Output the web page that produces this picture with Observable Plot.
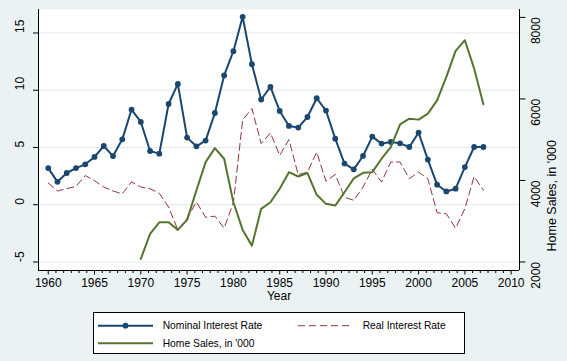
<!DOCTYPE html>
<html><head><meta charset="utf-8">
<script src="https://cdn.jsdelivr.net/npm/d3@7"></script>
<script src="https://cdn.jsdelivr.net/npm/@observablehq/plot@0.6"></script>
<style>
html,body{margin:0;padding:0;background:#eaf2f3;}
#wrap{position:relative;width:567px;height:361px;background:#eaf2f3;font-family:"Liberation Sans",Arial,sans-serif;overflow:hidden;}
#legend{position:absolute;left:93px;top:312px;width:372px;height:42px;}
</style></head>
<body>
<div id="wrap"><div id="chart"></div><div id="legend"></div></div>
<script>
// ---- data ----
const years = d3.range(1960, 2008);
const nominalRate = [3.2, 2.0, 2.77, 3.2, 3.53, 4.17, 5.13, 4.25, 5.71, 8.31,
  7.23, 4.69, 4.46, 8.8, 10.55, 5.86, 5.1, 5.6, 8.01, 11.29,
  13.41, 16.41, 12.27, 9.19, 10.29, 8.19, 6.88, 6.74, 7.66, 9.3,
  8.22, 5.77, 3.59, 3.09, 4.26, 5.95, 5.34, 5.48, 5.36, 5.04,
  6.3, 3.94, 1.75, 1.16, 1.4, 3.29, 5.04, 5.04];
const realRate = [1.9, 1.2, 1.4, 1.6, 2.55, 2.1, 1.55, 1.2, 0.95, 2.0,
  1.55, 1.4, 1.0, -0.2, -2.2, -1.2, 0.25, -1.1, -1.0, -2.05,
  0.2, 7.4, 8.4, 5.34, 6.27, 4.31, 5.69, 2.62, 2.85, 4.6,
  2.04, 2.65, 0.66, 0.38, 1.54, 3.1, 1.98, 3.73, 3.73, 2.27,
  2.85, 2.27, -0.7, -0.79, -2.05, -0.35, 2.47, 1.25];
const salesYears = d3.range(1970, 2008);
const homeSales = [2074, 2688, 2974, 2974, 2787, 3033, 3753, 4449, 4793, 4533,
  3466, 2787, 2401, 3303, 3466, 3795, 4203, 4097, 4179, 3647,
  3426, 3384, 3711, 4050, 4187, 4203, 4533, 4818, 5376, 5516,
  5492, 5639, 5966, 6539, 7178, 7441, 6745, 5868];
const xTicks = [1960, 1965, 1970, 1975, 1980, 1985, 1990, 1995, 2000, 2005, 2010];
const leftTicks = [-5, 0, 5, 10, 15];
const rightTicks = [2000, 4000, 6000, 8000];

// ---- styles ----
const cNom = "#1a476f", cReal = "#90353b", cSales = "#55752f";
const font = "'Liberation Sans', Arial, sans-serif";

// right axis (home sales) expressed on the left scale
const toLeft = h => -5 + (h - 2000) * 0.00356;
const x0 = 1958.95, x1 = 2010.9, y0 = -5.745, y1 = 17.05;
const minorX = d3.range(0, 61).map(i => 1960 + i * 5 / 6).filter(v => Math.abs(v - Math.round(v / 5) * 5) > 0.01);

const nomData = years.map((y, i) => ({year: y, v: nominalRate[i]}));
const realData = years.map((y, i) => ({year: y, v: realRate[i]}));
const salesData = salesYears.map((y, i) => ({year: y, v: toLeft(homeSales[i])}));

const noText = () => "";
const chart = Plot.plot({
  width: 567, height: 361,
  marginLeft: 38, marginRight: 48, marginTop: 9, marginBottom: 91,
  style: {background: "transparent", fontFamily: font, fontSize: "12px", color: "#000", overflow: "visible"},
  x: {domain: [x0, x1]},
  y: {domain: [y0, y1]},
  marks: [
    Plot.frame({fill: "white", stroke: null}),
    Plot.ruleY(leftTicks, {stroke: "#dfe8eb", strokeWidth: 1}),
    Plot.line(nomData, {x: "year", y: "v", stroke: cNom, strokeWidth: 2}),
    Plot.dot(nomData, {x: "year", y: "v", r: 2.9, fill: cNom, stroke: null}),
    Plot.line(realData, {x: "year", y: "v", stroke: cReal, strokeWidth: 1, strokeDasharray: "7,4"}),
    Plot.line(salesData, {x: "year", y: "v", stroke: cSales, strokeWidth: 2}),
    Plot.ruleX([x0, x1], {stroke: "#000", strokeWidth: 1}),
    Plot.ruleY([y0], {stroke: "#000", strokeWidth: 1}),
    Plot.axisX(xTicks, {anchor: "bottom", tickSize: 4.5, tickFormat: noText, label: null, stroke: "#000"}),
    Plot.axisX(minorX, {anchor: "bottom", tickSize: 3, tickFormat: noText, label: null, stroke: "#000"}),
    Plot.text(xTicks, {x: d => d, text: d => String(d), frameAnchor: "bottom", dy: 16.5, fontSize: 12, fill: "#000"}),
    Plot.text(["Year"], {text: d => d, frameAnchor: "bottom", dy: 29.5, fontSize: 12, fill: "#000"}),
    Plot.axisY(leftTicks, {anchor: "left", tickSize: 5, tickFormat: noText, label: null, stroke: "#000"}),
    Plot.text(leftTicks, {y: d => d, text: d => String(d), frameAnchor: "left", dx: -18, rotate: -90, fontSize: 12, fill: "#000"}),
    Plot.axisY(rightTicks.map(toLeft), {anchor: "right", tickSize: 5.5, tickFormat: noText, label: null, stroke: "#000"}),
    Plot.text(rightTicks, {y: d => toLeft(d), text: d => String(d), frameAnchor: "right", dx: 17, rotate: -90, fontSize: 12, fill: "#000"}),
    Plot.text(["Home Sales, in '000"], {text: d => d, frameAnchor: "right", dx: 32.5, rotate: -90, fontSize: 12.5, fill: "#000"})
  ]
});
document.getElementById("chart").appendChild(chart);

// ---- legend ----
const legendItems = [
  {label: "Nominal Interest Rate", color: cNom, dash: null, width: 2, marker: true, lx: 5, ty: 13.7, tx: 69.7},
  {label: "Real Interest Rate", color: cReal, dash: "7,4", width: 1, marker: false, lx: 205, ty: 13.7, tx: 269.7},
  {label: "Home Sales, in '000", color: cSales, dash: null, width: 2, marker: false, lx: 5, ty: 31.3, tx: 69.7}
];
const lsvg = d3.select("#legend").append("svg").attr("width", 372).attr("height", 42)
  .style("font-family", font);
lsvg.append("rect").attr("x", 0.5).attr("y", 0.5).attr("width", 371).attr("height", 41)
  .attr("fill", "#fff").attr("stroke", "#000").attr("stroke-width", 1);
for (const it of legendItems) {
  lsvg.append("line").attr("x1", it.lx).attr("x2", it.lx + 55).attr("y1", it.ty).attr("y2", it.ty)
    .attr("stroke", it.color).attr("stroke-width", it.width).attr("stroke-dasharray", it.dash);
  if (it.marker) lsvg.append("circle").attr("cx", it.lx + 27.5).attr("cy", it.ty).attr("r", 2.9).attr("fill", it.color);
  lsvg.append("text").attr("x", it.tx).attr("y", it.ty).attr("dy", "0.35em")
    .attr("font-size", 10.3).attr("fill", "#000").text(it.label);
}
</script>
</body></html>
